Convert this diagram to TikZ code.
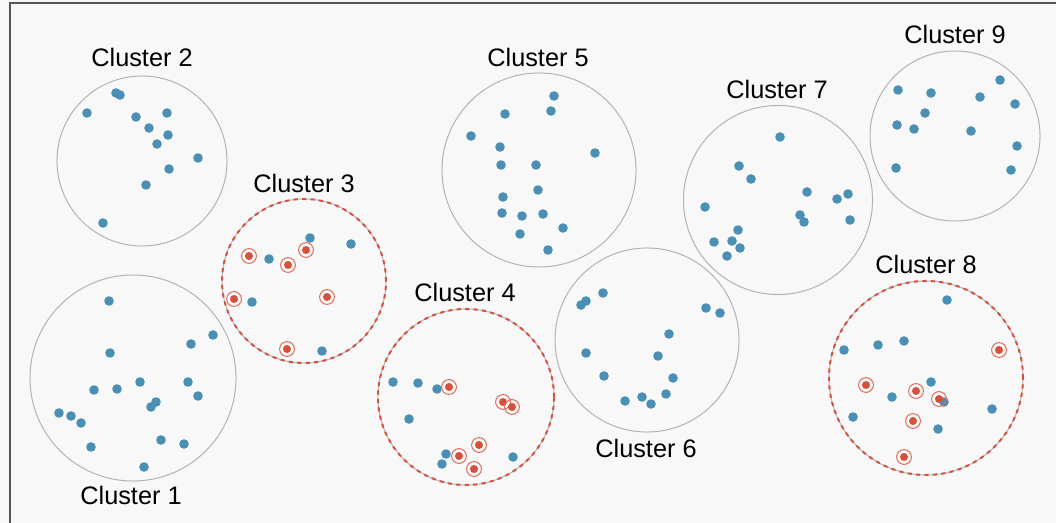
\documentclass[tikz,border=0pt]{standalone}
\usepackage{fontspec}
\setmainfont{Liberation Sans}
\usepackage{tikz}

\definecolor{sblue}{HTML}{4A90B4}
\definecolor{sred}{HTML}{D6503C}
\definecolor{clgray}{HTML}{B2B2B2}
\definecolor{bg}{HTML}{F8F8F8}
\definecolor{frame}{HTML}{555555}

\begin{document}
\begin{tikzpicture}[x=0.025cm, y=-0.025cm,
    cluster/.style={draw=clgray, circle, inner sep=0pt, line width=0.7pt},
    sampled/.style={cluster, postaction={draw=sred, line width=1.4pt, dash pattern=on 3pt off 3pt}},
    bdot/.style={circle, fill=sblue, inner sep=0pt, minimum size=0.24cm},
    rdot/.style={circle, draw=sred!85, line width=0.7pt, inner sep=0pt, minimum size=0.37cm,
        path picture={\fill[sred] (path picture bounding box.center) circle[radius=0.1cm];}},
    lab/.style={font=\fontsize{18}{20}\selectfont, inner sep=0pt}]
    \useasboundingbox (0,0) rectangle (1056,523);
    \fill[bg] (0,0) rectangle (1056,523);
    \draw[frame, line width=1.4pt] (10,530) -- (10,3) -- (1060,3);

    % clusters
    \node[cluster, minimum size=5.15cm] (c1) at (133,378) {};
    \node[cluster, minimum size=4.25cm] (c2) at (142,161) {};
    \node[sampled, minimum size=4.1cm] (c3) at (304,281) {};
    \node[sampled, minimum size=4.4cm] (c4) at (466,397) {};
    \node[cluster, minimum size=4.85cm] (c5) at (539,170) {};
    \node[cluster, minimum size=4.6cm] (c6) at (647,340) {};
    \node[cluster, minimum size=4.725cm] (c7) at (778,200) {};
    \node[sampled, minimum size=4.85cm] (c8) at (926,378) {};
    \node[cluster, minimum size=4.25cm] (c9) at (955,136) {};

    % labels
    \node[lab] (l1) at (131,495) {Cluster 1};
    \node[lab] (l2) at (142,57) {Cluster 2};
    \node[lab] (l3) at (304,183) {Cluster 3};
    \node[lab] (l4) at (465,292) {Cluster 4};
    \node[lab] (l5) at (538,57) {Cluster 5};
    \node[lab] (l6) at (646,448) {Cluster 6};
    \node[lab] (l7) at (777,89) {Cluster 7};
    \node[lab] (l8) at (926,264) {Cluster 8};
    \node[lab] (l9) at (955,34) {Cluster 9};

    % points
    \foreach \x/\y [count=\i] in {109/301, 213/335, 191/344, 110/353, 140/382, 188/382, 94/390,
        117/389, 198/396, 156/402, 151/407, 59/413, 71/416, 81/423, 161/440, 184/444, 91/447, 144/467}
        \node[bdot] (p1\i) at (\x,\y) {};
    \foreach \x/\y [count=\i] in {116/93, 120/95, 87/113, 136/117, 167/113, 149/128, 168/135,
        157/144, 198/158, 169/169, 146/185, 103/223}
        \node[bdot] (p2\i) at (\x,\y) {};
    \foreach \x/\y [count=\i] in {310/238, 351/244, 269/259, 252/302, 322/351}
        \node[bdot] (p3\i) at (\x,\y) {};
    \foreach \x/\y [count=\i] in {393/382, 418/383, 437/389, 409/419, 446/454, 442/464, 513/457}
        \node[bdot] (p4\i) at (\x,\y) {};
    \foreach \x/\y [count=\i] in {554/96, 505/114, 551/111, 471/136, 500/147, 595/153, 501/165,
        536/165, 538/190, 503/197, 502/213, 522/216, 543/214, 563/228, 520/234, 548/250}
        \node[bdot] (p5\i) at (\x,\y) {};
    \foreach \x/\y [count=\i] in {603/293, 586/301, 581/305, 706/308, 720/313, 669/334, 586/353,
        658/356, 604/376, 673/378, 666/394, 625/401, 642/397, 651/404}
        \node[bdot] (p6\i) at (\x,\y) {};
    \foreach \x/\y [count=\i] in {780/137, 739/166, 751/179, 807/192, 837/199, 848/194, 705/207,
        800/215, 804/222, 850/220, 738/230, 714/242, 732/241, 740/248, 727/256}
        \node[bdot] (p7\i) at (\x,\y) {};
    \foreach \x/\y [count=\i] in {947/300, 844/350, 878/345, 904/341, 931/382, 892/397, 944/402,
        853/417, 992/409, 938/429}
        \node[bdot] (p8\i) at (\x,\y) {};
    \foreach \x/\y [count=\i] in {1000/80, 898/90, 931/93, 980/97, 1015/104, 925/113, 897/125,
        914/129, 971/131, 1017/146, 896/168, 1011/170}
        \node[bdot] (p9\i) at (\x,\y) {};

    % sampled points
    \foreach \x/\y [count=\i] in {249/256, 306/250, 288/265, 234/299, 327/297, 287/349}
        \node[rdot] (s3\i) at (\x,\y) {};
    \foreach \x/\y [count=\i] in {449/387, 503/402, 512/407, 479/445, 459/456, 474/469}
        \node[rdot] (s4\i) at (\x,\y) {};
    \foreach \x/\y [count=\i] in {999/350, 866/385, 916/391, 939/399, 913/421, 904/457}
        \node[rdot] (s8\i) at (\x,\y) {};
\end{tikzpicture}
\end{document}
